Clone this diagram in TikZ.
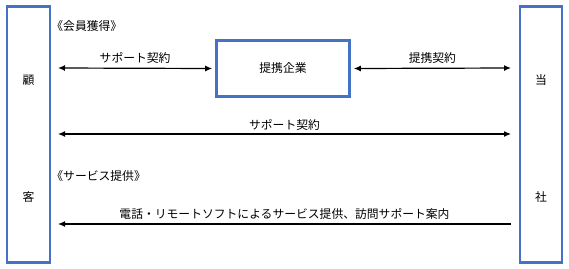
\documentclass[tikz,border=0pt]{standalone}
\usepackage{fontspec}
\newfontfamily\cjk{Noto Sans CJK JP}
\usetikzlibrary{arrows.meta}
\definecolor{boxblue}{RGB}{68,114,196}
\newcommand{\myldq}{\makebox[7pt][r]{《}}
\newcommand{\myrdq}{\makebox[7pt][l]{》}}
\begin{document}
\begin{tikzpicture}[x=1pt,y=-1pt,
  bluebox/.style={draw=boxblue,line width=2.6pt,inner sep=0pt},
  lbl/.style={font=\cjk\fontsize{11.8}{13}\selectfont,inner sep=1pt},
  conn/.style={line width=1.2pt,{Latex[length=7pt,width=6pt]}-{Latex[length=7pt,width=6pt]}},
  oneway/.style={line width=1.2pt,-{Latex[length=7pt,width=6pt]}}]
\useasboundingbox (0,0) rectangle (569,268);
\node[bluebox,minimum width=43pt,minimum height=256pt] (cust) at (28.5,134.5) {};
\node[bluebox,minimum width=42pt,minimum height=256pt] (co) at (541,134.5) {};
\node[bluebox,minimum width=133pt,minimum height=56pt,lbl] (partner) at (283,68.5) {提携企業};
\node[lbl] (k1) at (28.5,80) {顧};
\node[lbl] (k2) at (28.5,197) {客};
\node[lbl] (t1) at (541,80) {当};
\node[lbl] (t2) at (541,197) {社};
\node[lbl,anchor=west] (h1) at (55,26) {\myldq 会員獲得\myrdq};
\node[lbl,anchor=west] (h2) at (55,176) {\myldq サービス提供\myrdq};
\coordinate (a1l) at (58,68);
\coordinate (a2r) at (511,68);
\coordinate (b1l) at (58,134);
\coordinate (b1r) at (511,134);
\coordinate (c1l) at (58,224);
\coordinate (c1r) at (511,224);
\draw[conn] (a1l) -- ([xshift=-3pt]partner.west) node[midway,above=3pt,lbl] (l1) {サポート契約};
\draw[conn] ([xshift=3pt]partner.east) -- (a2r) node[midway,above=3pt,lbl] (l2) {提携契約};
\draw[conn] (b1l) -- (b1r) node[midway,above=2pt,lbl] (l3) {サポート契約};
\draw[oneway] (c1r) -- (c1l) node[midway,above=3pt,lbl] (l4) {電話・リモートソフトによるサービス提供、訪問サポート案内};
\end{tikzpicture}
\end{document}
